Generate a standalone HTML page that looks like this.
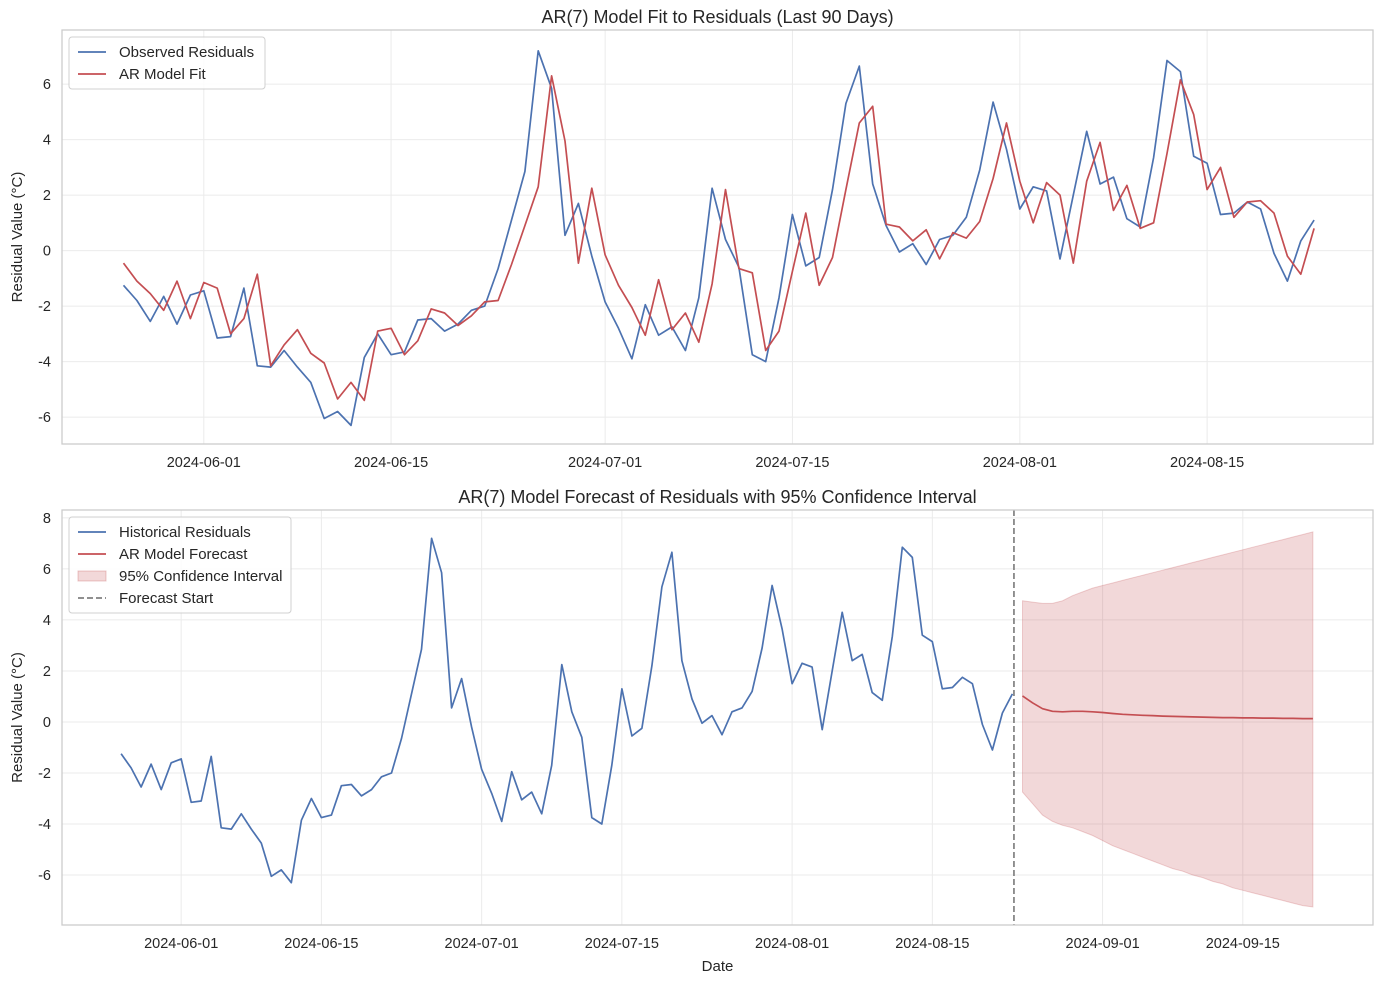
<!DOCTYPE html>
<html><head><meta charset="utf-8">
<style>
html,body{margin:0;padding:0;background:#fff;}
svg{display:block;font-family:"Liberation Sans","DejaVu Sans",sans-serif;}
</style></head>
<body>
<svg id="chart" width="1384" height="983" viewBox="0 0 1384 983" xmlns="http://www.w3.org/2000/svg"></svg>
<script>
// Day offsets relative to 2024-06-01
const histStartDay = -6; // 2024-05-26
const observed = [-1.25,-1.8,-2.55,-1.65,-2.65,-1.6,-1.45,-3.15,-3.1,-1.35,-4.15,-4.2,-3.6,-4.2,-4.75,-6.05,-5.8,-6.3,-3.85,-3.0,-3.75,-3.65,-2.5,-2.45,-2.9,-2.65,-2.15,-2.0,-0.65,1.1,2.85,7.2,5.85,0.55,1.7,-0.2,-1.85,-2.8,-3.9,-1.95,-3.05,-2.75,-3.6,-1.7,2.25,0.4,-0.6,-3.75,-4.0,-1.7,1.3,-0.55,-0.25,2.2,5.3,6.65,2.4,0.9,-0.05,0.25,-0.5,0.4,0.55,1.2,2.9,5.35,3.65,1.5,2.3,2.15,-0.3,2.0,4.3,2.4,2.65,1.15,0.85,3.35,6.85,6.45,3.4,3.15,1.3,1.35,1.75,1.5,-0.1,-1.1,0.35,1.1];
const arFit = [-0.45,-1.1,-1.55,-2.15,-1.1,-2.45,-1.15,-1.35,-3.0,-2.45,-0.85,-4.15,-3.4,-2.85,-3.7,-4.05,-5.35,-4.75,-5.4,-2.9,-2.8,-3.75,-3.25,-2.1,-2.25,-2.7,-2.35,-1.85,-1.8,-0.5,0.9,2.3,6.3,3.95,-0.45,2.25,-0.15,-1.25,-2.05,-3.05,-1.05,-2.85,-2.25,-3.3,-1.2,2.2,-0.65,-0.8,-3.6,-2.9,-0.75,1.35,-1.25,-0.25,2.2,4.6,5.2,0.95,0.85,0.35,0.75,-0.3,0.65,0.45,1.05,2.6,4.6,2.5,1.0,2.45,2.0,-0.45,2.5,3.9,1.45,2.35,0.8,1.0,3.5,6.15,4.9,2.2,3.0,1.2,1.75,1.8,1.35,-0.2,-0.85,0.8];
const fcStartDay = 84; // 2024-08-24
const forecast = [1.02,0.75,0.52,0.42,0.40,0.42,0.42,0.40,0.37,0.33,0.30,0.28,0.26,0.25,0.23,0.22,0.21,0.20,0.19,0.18,0.17,0.17,0.16,0.16,0.15,0.15,0.14,0.14,0.13,0.13];
const ciUpper = [4.75,4.7,4.65,4.65,4.75,4.95,5.1,5.25,5.35,5.45,5.55,5.65,5.75,5.85,5.95,6.05,6.15,6.25,6.35,6.45,6.55,6.65,6.75,6.85,6.95,7.05,7.15,7.25,7.35,7.45];
const ciLower = [-2.75,-3.2,-3.65,-3.9,-4.05,-4.15,-4.3,-4.45,-4.65,-4.85,-5.0,-5.15,-5.3,-5.45,-5.6,-5.75,-5.85,-6.0,-6.1,-6.25,-6.35,-6.5,-6.6,-6.7,-6.8,-6.9,-7.0,-7.1,-7.2,-7.25];
const forecastLineDay = 83; // 2024-08-23
const topTickDays = [0,14,30,44,61,75];
const topTickLabels = ["2024-06-01","2024-06-15","2024-07-01","2024-07-15","2024-08-01","2024-08-15"];
const botTickDays = [0,14,30,44,61,75,92,106];
const botTickLabels = ["2024-06-01","2024-06-15","2024-07-01","2024-07-15","2024-08-01","2024-08-15","2024-09-01","2024-09-15"];
const topYTicks = [-6,-4,-2,0,2,4,6];
const botYTicks = [-6,-4,-2,0,2,4,6,8];

const NS="http://www.w3.org/2000/svg";
const svg=document.getElementById('chart');
function el(tag,attrs,parent,text){const e=document.createElementNS(NS,tag);for(const k in attrs)e.setAttribute(k,attrs[k]);if(text!==undefined)e.textContent=text;(parent||svg).appendChild(e);return e;}

function makeAxes(box,xmin,xmax,ymin,ymax){
  const sx=d=>box.x+(d-xmin)/(xmax-xmin)*box.w;
  const sy=v=>box.y+box.h-(v-ymin)/(ymax-ymin)*box.h;
  return {sx,sy};
}
function drawFrame(g,box,ax,xt,xl,yt,title,name){
  for(const d of xt){const gl=el('line',{x1:ax.sx(d),x2:ax.sx(d),y1:box.y,y2:box.y+box.h,stroke:'#ebebeb','stroke-width':1},g);
  
  }
  for(const v of yt){const gl=el('line',{x1:box.x,x2:box.x+box.w,y1:ax.sy(v),y2:ax.sy(v),stroke:'#ebebeb','stroke-width':1},g);
  
  }
  xt.forEach((d,i)=>{const t=el('text',{x:ax.sx(d),y:box.y+box.h+23,'text-anchor':'middle','font-size':14.5,fill:'#262626'},g,xl[i]);
  
  });
  yt.forEach(v=>{const t=el('text',{x:box.x-11,y:ax.sy(v)+5,'text-anchor':'end','font-size':14.5,fill:'#262626'},g,String(v));
  
  });
  const t=el('text',{x:box.x+box.w/2,y:box.y-7,'text-anchor':'middle','font-size':18,fill:'#262626'},g,title);
  
  
  const yl=el('text',{x:22,y:box.y+box.h/2,'text-anchor':'middle','font-size':15,fill:'#262626',transform:`rotate(-90 22 ${box.y+box.h/2})`},g,'Residual Value (°C)');
  
  
}
function poly(g,days,vals,ax,color,name){
  const pts=vals.map((v,i)=>ax.sx(days+i).toFixed(1)+','+ax.sy(v).toFixed(1)).join(' ');
  const p=el('polyline',{points:pts,fill:'none',stroke:color,'stroke-width':1.7,'stroke-linejoin':'round'},g);
  
  
}
const BLUE='#4c72b0',RED='#c44e52';

// Top panel
const topBox={x:62,y:30,w:1311,h:414};
const gTop=el('g',{});


const axT=makeAxes(topBox,-10.6,87.4,-6.97,7.95);
drawFrame(gTop,topBox,axT,topTickDays,topTickLabels,topYTicks,'AR(7) Model Fit to Residuals (Last 90 Days)','fit-chart');
poly(gTop,histStartDay,observed,axT,BLUE,'observed-residuals-line');
poly(gTop,histStartDay,arFit,axT,RED,'ar-fit-line');
el('rect',{x:topBox.x,y:topBox.y,width:topBox.w,height:topBox.h,fill:'none',stroke:'#cccccc','stroke-width':1.3},gTop);

// Bottom panel
const botBox={x:62,y:510,w:1311,h:415};
const gBot=el('g',{});


const axB=makeAxes(botBox,-11.9,119,-7.96,8.31);
drawFrame(gBot,botBox,axB,botTickDays,botTickLabels,botYTicks,'AR(7) Model Forecast of Residuals with 95% Confidence Interval','forecast-chart');
let ciPts=ciUpper.map((v,i)=>axB.sx(fcStartDay+i).toFixed(1)+','+axB.sy(v).toFixed(1));
ciPts=ciPts.concat(ciLower.map((v,i)=>axB.sx(fcStartDay+i).toFixed(1)+','+axB.sy(v).toFixed(1)).reverse());
const ci=el('polygon',{points:ciPts.join(' '),fill:RED,'fill-opacity':0.22,stroke:RED,'stroke-opacity':0.25,'stroke-width':1},gBot);


poly(gBot,histStartDay,observed,axB,BLUE,'historical-residuals-line');
poly(gBot,fcStartDay,forecast,axB,RED,'ar-forecast-line');
const vl=el('line',{x1:axB.sx(forecastLineDay)+1.5,x2:axB.sx(forecastLineDay)+1.5,y1:botBox.y,y2:botBox.y+botBox.h,stroke:'#808080','stroke-width':1.7,'stroke-dasharray':'6,3'},gBot);


el('rect',{x:botBox.x,y:botBox.y,width:botBox.w,height:botBox.h,fill:'none',stroke:'#cccccc','stroke-width':1.3},gBot);
const xl=el('text',{x:botBox.x+botBox.w/2,y:971,'text-anchor':'middle','font-size':15,fill:'#262626'},gBot,'Date');



// Legends
function legend(x,y,w,items,name){
  const g=el('g',{});
  
  
  el('rect',{x:x,y:y,width:w,height:items.length*22+8,rx:3,fill:'#fff','fill-opacity':0.85,stroke:'#d0d0d0'},g);
  items.forEach((it,i)=>{
    const cy=y+15+i*22;
    const e=el('g',{},g);
    
    
    if(it.type==='patch') el('rect',{x:x+9,y:cy-5,width:28,height:10,fill:RED,'fill-opacity':0.22,stroke:RED,'stroke-opacity':0.3},e);
    else el('line',{x1:x+9,x2:x+37,y1:cy,y2:cy,stroke:it.color,'stroke-width':1.7,'stroke-dasharray':it.dash||'none'},e);
    el('text',{x:x+50,y:cy+5,'font-size':15,fill:'#262626'},e,it.label);
  });
}
legend(69,37,196,[{color:BLUE,label:'Observed Residuals'},{color:RED,label:'AR Model Fit'}],'fit-legend');
legend(69,517,222,[{color:BLUE,label:'Historical Residuals'},{color:RED,label:'AR Model Forecast'},{type:'patch',label:'95% Confidence Interval'},{color:'#808080',dash:'6,3',label:'Forecast Start'}],'forecast-legend');
</script>
</body></html>
